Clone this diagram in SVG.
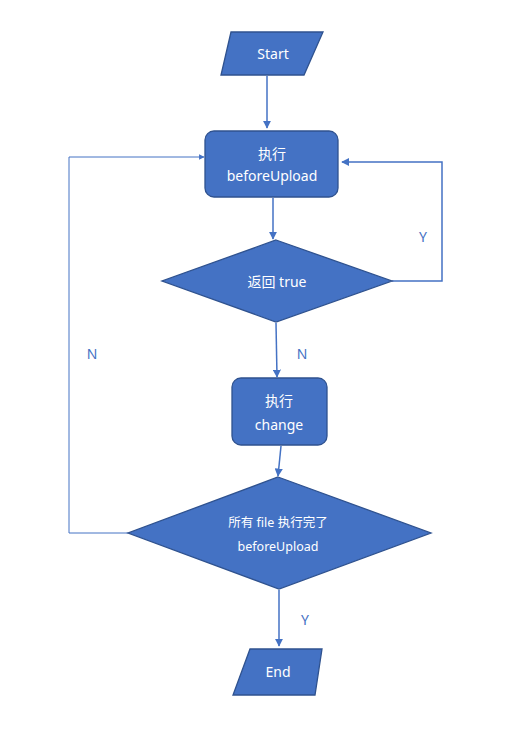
<svg xmlns="http://www.w3.org/2000/svg" width="532" height="735" viewBox="0 0 532 735">
<style>
.shape{fill:#4472C4;stroke:#2F528F;stroke-width:1.3}
.t{fill:#FFFFFF;font-family:"Noto Sans","Noto Sans CJK SC",sans-serif;font-size:14px;text-anchor:middle;dominant-baseline:central}
.s{font-size:12.5px}
.c{fill:none;stroke:#4472C4;stroke-width:1.5}
.lab{fill:#4472C4;font-family:"Noto Sans","Noto Sans CJK SC",sans-serif;font-size:14px;text-anchor:middle;dominant-baseline:central}
</style>
<defs>
<marker id="arr" viewBox="0 0 10 10" refX="9" refY="5" markerWidth="5.5" markerHeight="5.5" orient="auto" markerUnits="strokeWidth">
<path d="M0,0 L10,5 L0,10 z" fill="#4472C4"/>
</marker>
</defs>
<rect width="532" height="735" fill="#FFFFFF"/>
<g id="connectors">
<path class="c" d="M267,76 L267,128" marker-end="url(#arr)"/>
<path class="c" d="M273,198 L273,239" marker-end="url(#arr)"/>
<path class="c" d="M392,281 L442,281 L442,162 L342,162" marker-end="url(#arr)"/>
<path class="c" d="M276,323 L277,377" marker-end="url(#arr)"/>
<path class="c" d="M281,446 L278,476" marker-end="url(#arr)"/>
<path class="c" d="M128,533 L69,533 L69,157 L204,157" marker-end="url(#arr)" style="stroke-width:1"/>
<path class="c" d="M279,590 L279,646" marker-end="url(#arr)"/>
<text class="lab" x="423" y="236">Y</text>
<text class="lab" x="302" y="353">N</text>
<text class="lab" x="92" y="353">N</text>
<text class="lab" x="305" y="619">Y</text>
</g>
<g id="start">
<polygon class="shape" points="231,32 323,32 304,75 221,75"/>
<text class="t" x="273" y="53">Start</text>
</g>
<g id="exec-beforeUpload">
<rect class="shape" x="205" y="131" width="133" height="66" rx="9"/>
<text class="t" x="272" y="153">执行</text>
<text class="t" x="272" y="175">beforeUpload</text>
</g>
<g id="return-true">
<polygon class="shape" points="276,240 392,281 276,322 162,281"/>
<text class="t" x="277" y="281">返回 true</text>
</g>
<g id="exec-change">
<rect class="shape" x="232" y="378" width="95" height="67" rx="9"/>
<text class="t" x="279" y="400">执行</text>
<text class="t" x="279" y="424">change</text>
</g>
<g id="all-done">
<polygon class="shape" points="278,477 431,533 279,589 128,533"/>
<text class="t s" x="278" y="522">所有 file 执行完了</text>
<text class="t s" x="278" y="546">beforeUpload</text>
</g>
<g id="end">
<polygon class="shape" points="250,649 322,649 315,695 233,695"/>
<text class="t" x="278" y="671">End</text>
</g>
</svg>
